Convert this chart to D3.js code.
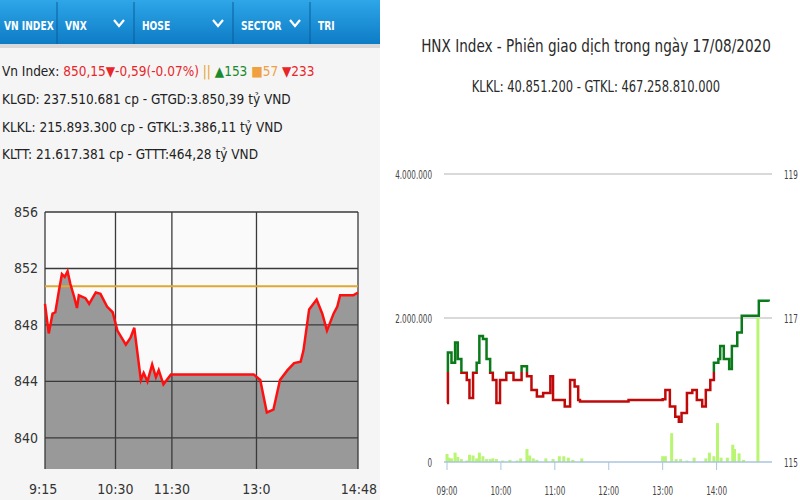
<!DOCTYPE html>
<html><head><meta charset="utf-8">
<script src="https://cdn.jsdelivr.net/npm/d3@7"></script>
<style>body{margin:0;background:#fff}svg{display:block}</style>
</head><body><svg id="c" width="800" height="500"></svg>
<script>
// left widget: VN Index intraday
var vn_times = ['9:15','9:19','9:23','9:26','9:30','9:33','9:36','9:39','9:42','9:46','9:49','9:51','9:58','10:02','10:09','10:14','10:21','10:27','10:32','10:41','10:46','10:50','10:53','10:57','11:00','11:04','11:09','11:13','11:16','11:21','11:29','12:57','13:04','13:11','13:18','13:25','13:33','13:40','13:47','13:50','13:56','14:04','14:10','14:15','14:22','14:26','14:29','14:43','14:48'];
var vn_values = [849.5,847.4,848.8,848.9,850.5,851.6,851.4,851.8,850.9,850.0,849.2,850.1,849.9,849.5,850.3,850.2,849.3,848.9,847.6,846.6,847.1,847.8,846.2,844.1,844.6,844.0,845.2,844.3,844.8,843.8,844.5,844.5,844.1,841.8,842.0,844.1,844.8,845.3,845.4,846.2,849.1,849.8,848.8,847.6,848.8,849.3,850.1,850.1,850.3];
var vn_ref = 850.74;
var vn_yticks = [856,852,848,844,840];
var vn_xticks = ['9:15','10:30','11:30','13:0','14:48'];
var tabs = ['VN INDEX','VNX','HOSE','SECTOR','TRI'];

// right chart: HNX Index
var hnx_times = ['9:00','9:01','9:05','9:09','9:12','9:16','9:22','9:25','9:29','9:33','9:36','9:40','9:44','9:48','9:51','9:55','9:59','10:06','10:14','10:23','10:29','10:34','10:40','10:47','10:55','10:58','11:04','11:11','11:17','11:22','11:26','11:28','12:22','13:00','13:03','13:08','13:14','13:18','13:21','13:27','13:33','13:38','13:44','13:48','13:53','13:57','14:02','14:04','14:08','14:14','14:17','14:23','14:28','14:43','14:47','14:58'];
var hnx_values = [115.82,116.52,116.38,116.66,116.43,116.24,116.14,115.89,116.24,116.38,116.75,116.71,116.43,116.24,116.14,115.82,116.14,116.24,116.14,116.33,116.19,116.00,115.91,115.96,116.19,115.86,115.86,115.77,116.14,116.05,115.86,115.84,115.86,115.87,116.00,115.77,115.63,115.56,115.68,115.96,116.00,115.86,115.77,116.00,116.14,116.38,116.43,116.61,116.43,116.29,116.61,116.80,117.03,117.03,117.24,117.23];
var hnx_ref = 116.25;
var vol_times = ['9:00','9:02','9:05','9:09','9:12','9:16','9:22','9:25','9:29','9:33','9:36','9:40','9:44','9:48','9:51','9:55','10:02','10:10','10:18','10:22','10:29','10:32','10:36','10:40','10:50','10:58','11:05','11:10','11:15','11:20','11:30','13:00','13:03','13:10','13:15','13:20','13:27','13:35','13:48','13:52','13:57','14:01','14:05','14:12','14:18','14:20','14:25','14:30','14:46'];
var vol_values = [110000,60000,50000,130000,70000,40000,20000,100000,90000,50000,130000,80000,40000,40000,50000,40000,20000,30000,20000,50000,180000,90000,50000,30000,50000,40000,80000,80000,60000,30000,50000,80000,80000,400000,40000,40000,20000,60000,50000,130000,80000,540000,60000,60000,240000,180000,120000,30000,2000000];
var vol_ticks = [0,2000000,4000000];
var idx_ticks = [115,117,119];
var hnx_xticks = ['9:00','10:00','11:00','12:00','13:00','14:00'];

var svg = d3.select('#c');
var parse = d3.timeParse('%H:%M');
var fmtVol = function(v){ return d3.format(',')(v).replace(/,/g,'.'); };
function squeeze(sel, x, k){ return sel.attr('transform','translate('+x+',0) scale('+k+',1) translate('+(-x)+',0)'); }

// ---- left panel ----
svg.append('rect').attr('width',380).attr('height',500).attr('fill','#f5f5f5');
var grad = svg.append('defs').append('linearGradient').attr('id','hb').attr('x1',0).attr('y1',0).attr('x2',0).attr('y2',1);
grad.append('stop').attr('offset','0%').attr('stop-color','#2ea6e8');
grad.append('stop').attr('offset','100%').attr('stop-color','#0d7cc6');
svg.append('rect').attr('x',0).attr('y',44).attr('width',380).attr('height',4).attr('fill','#d8d8d8');
svg.append('rect').attr('width',380).attr('height',44).attr('fill','url(#hb)');
var tabX = [0,57,134,233,310,380];
tabs.forEach(function(t,i){
  if(i>0) svg.append('line').attr('x1',tabX[i]).attr('x2',tabX[i]).attr('y1',2).attr('y2',44).attr('stroke','#0b5f9c');
  var x = tabX[i]+(i==0?4:8);
  squeeze(svg.append('text').attr('x',x).attr('y',30).text(t)
    .attr('fill','#fff').attr('font-family','DejaVu Sans Condensed').attr('font-weight','bold').attr('font-size',13), x, 0.78);
  if(i>=1 && i<=3) svg.append('path').attr('d','M'+(tabX[i+1]-20)+',20 l5,6 l5,-6').attr('fill','none').attr('stroke','#fff').attr('stroke-width',2.2);
});

var info = svg.append('g').attr('font-family','DejaVu Sans Condensed').attr('font-size',13.5).attr('fill','#222');
var l1 = info.append('text').attr('x',2).attr('y',76);
l1.append('tspan').text('Vn Index: ');
l1.append('tspan').attr('fill','#e8262a').text('850,15▼-0,59(-0.07%)');
l1.append('tspan').attr('fill','#e8a020').text(' ||  ');
l1.append('tspan').attr('fill','#1a8a2a').text(' ▲153  ');
l1.append('tspan').attr('fill','#f0a040').text(' ■57  ');
l1.append('tspan').attr('fill','#e8262a').text(' ▼233');
info.append('text').attr('x',2).attr('y',104).text('KLGD: 237.510.681 cp - GTGD:3.850,39 tỷ VND');
info.append('text').attr('x',2).attr('y',132).text('KLKL: 215.893.300 cp - GTKL:3.386,11 tỷ VND');
info.append('text').attr('x',2).attr('y',159).text('KLTT: 21.617.381 cp - GTTT:464,28 tỷ VND');

var lx = d3.scaleTime().domain([parse('9:15'),parse('14:48')]).range([45,358]);
var ly = d3.scaleLinear().domain([837.8,856]).range([469,212]);
var vnData = vn_times.map(function(t,i){ return {t:parse(t), v:vn_values[i]}; });
svg.append('rect').attr('x',45).attr('y',212).attr('width',313).attr('height',257).attr('fill','#fafafa');
svg.append('path').datum(vnData).attr('fill','#999')
  .attr('d', d3.area().x(function(d){return lx(d.t);}).y0(469).y1(function(d){return ly(d.v);}));
var lg = svg.append('g').attr('stroke','#3a3a3a').attr('stroke-width',1.3);
vn_yticks.forEach(function(v){ lg.append('line').attr('x1',45).attr('x2',358).attr('y1',ly(v)).attr('y2',ly(v)); });
vn_xticks.forEach(function(t){ var x=lx(parse(t.replace(':0',':00'))); lg.append('line').attr('x1',x).attr('x2',x).attr('y1',212).attr('y2',469); });
svg.append('line').attr('x1',45).attr('x2',358).attr('y1',ly(vn_ref)).attr('y2',ly(vn_ref)).attr('stroke','#e0a830').attr('stroke-width',2);
svg.append('path').datum(vnData).attr('fill','none').attr('stroke','#ff1010').attr('stroke-width',2.5)
  .attr('d', d3.line().x(function(d){return lx(d.t);}).y(function(d){return ly(d.v);}));
var lt = svg.append('g').attr('font-family','DejaVu Sans Condensed').attr('font-size',14).attr('fill','#333');
vn_yticks.forEach(function(v){ lt.append('text').attr('x',14).attr('y',ly(v)+5).text(v); });
vn_xticks.forEach(function(t,i){
  var x=lx(parse(t.replace(':0',':00')));
  lt.append('text').attr('x', i==0 ? 29 : (i==4 ? 377 : x)).attr('y',494)
    .attr('text-anchor', i==0?'start':(i==4?'end':'middle')).text(t);
});

// ---- right panel ----
var rx = d3.scaleTime().domain([parse('9:00'),parse('15:05')]).range([447,775]);
var ryv = d3.scaleLinear().domain([0,4000000]).range([462,174]);
var ryi = d3.scaleLinear().domain([115,119]).range([462,174]);
var rt = svg.append('g').attr('font-family','DejaVu Sans Condensed').attr('fill','#2a2a2a');
squeeze(rt.append('text').attr('x',596).attr('y',52).attr('text-anchor','middle').attr('font-size',18)
  .text('HNX Index - Phiên giao dịch trong ngày 17/08/2020'), 596, 0.84);
squeeze(rt.append('text').attr('x',596).attr('y',92).attr('text-anchor','middle').attr('font-size',16)
  .text('KLKL: 40.851.200 - GTKL: 467.258.810.000'), 596, 0.8);

vol_ticks.slice(1).forEach(function(v){
  svg.append('line').attr('x1',444).attr('x2',772).attr('y1',ryv(v)).attr('y2',ryv(v)).attr('stroke','#ccc').attr('stroke-width',1.5);
});
svg.append('g').selectAll('rect').data(vol_times).enter().append('rect')
  .attr('x',function(t){return rx(parse(t))-1.5;}).attr('width',3)
  .attr('y',function(t,i){return ryv(vol_values[i]);})
  .attr('height',function(t,i){return 462-ryv(vol_values[i]);})
  .attr('fill','#b8f570');
svg.append('line').attr('x1',444).attr('x2',772).attr('y1',462).attr('y2',462).attr('stroke','#a8c4e0').attr('stroke-width',1.5);
hnx_xticks.forEach(function(t){ var x=rx(parse(t)); svg.append('line').attr('x1',x).attr('x2',x).attr('y1',462).attr('y2',470).attr('stroke','#a8c4e0'); });

var hData = hnx_times.map(function(t,i){ return {t:parse(t), v:hnx_values[i]}; });
var cp = svg.append('defs');
cp.append('clipPath').attr('id','above').append('rect').attr('x',440).attr('y',0).attr('width',340).attr('height',ryi(hnx_ref));
cp.append('clipPath').attr('id','below').append('rect').attr('x',440).attr('y',ryi(hnx_ref)).attr('width',340).attr('height',300);
var hline = d3.line().curve(d3.curveStepAfter).x(function(d){return rx(d.t);}).y(function(d){return ryi(d.v);});
svg.append('path').datum(hData).attr('clip-path','url(#above)').attr('fill','none').attr('stroke','#0a7a1a').attr('stroke-width',2.5).attr('d',hline);
svg.append('path').datum(hData).attr('clip-path','url(#below)').attr('fill','none').attr('stroke','#c00a0a').attr('stroke-width',2.5).attr('d',hline);

var ra = svg.append('g').attr('font-family','DejaVu Sans Condensed').attr('font-size',13).attr('fill','#444');
vol_ticks.forEach(function(v){
  squeeze(ra.append('text').attr('x',432).attr('y',ryv(v)+5).attr('text-anchor','end').text(fmtVol(v)), 432, 0.62);
});
idx_ticks.forEach(function(v){
  squeeze(ra.append('text').attr('x',784).attr('y',ryi(v)+5).text(v), 784, 0.62);
});
hnx_xticks.forEach(function(t){
  var x=rx(parse(t));
  squeeze(ra.append('text').attr('x',x).attr('y',495).attr('text-anchor','middle').text(d3.timeFormat('%H:%M')(parse(t))), x, 0.62);
});
</script></body></html>
